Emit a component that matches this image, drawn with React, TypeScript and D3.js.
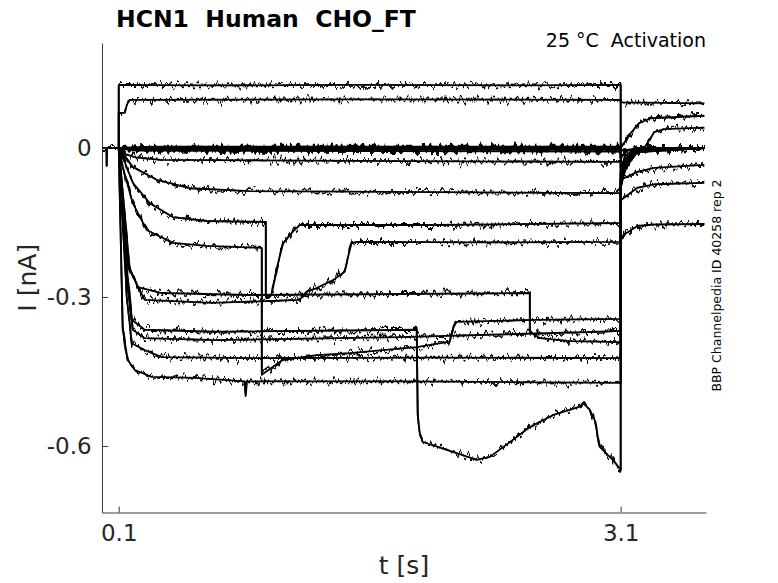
import React, { useEffect, useRef } from 'react';
import * as d3 from 'd3';

type Pt = [number, number]; // [t in s, I in nA]

const xTicks = [0.1, 3.1];
const yTicks = [0, -0.3, -0.6];

// traces, [t, I]
const traceP1: Pt[] = [[0, 0], [0.1, 0], [0.1, 0.127], [0.6, 0.126], [1.5, 0.127], [2.5, 0.126], [3.1, 0.127], [3.1, -0.02], [3.14, -0.004], [3.6, 0]];
const traceP2: Pt[] = [[0, 0], [0.1, 0], [0.1, 0.07], [0.135, 0.071], [0.15, 0.088], [0.165, 0.097], [1.5, 0.098], [3.1, 0.097], [3.1, 0.092], [3.6, 0.09]];
const traceZ1: Pt[] = [[0, 0], [0.1, 0], [0.3, 0.003], [3.1, 0.003], [3.1, 0], [3.12, 0.01], [3.16, 0.03], [3.21, 0.05], [3.28, 0.06], [3.6, 0.065]];
const traceZ2: Pt[] = [[0, 0], [0.1, 0], [0.3, -0.003], [3.1, -0.003], [3.1, -0.005], [3.24, 0], [3.26, 0.01], [3.3, 0.032], [3.36, 0.038], [3.6, 0.041]];
const traceZ3: Pt[] = [[0, 0], [0.027, 0], [0.028, -0.036], [0.03, 0], [0.1, 0], [3.1, 0], [3.1, -0.02], [3.14, -0.005], [3.6, 0]];
const traceZ4: Pt[] = [[0, 0], [0.1, 0], [0.2, -0.005], [3.1, -0.007], [3.1, -0.04], [3.13, -0.015], [3.2, 0], [3.6, 0]];
const traceN1: Pt[] = [[0, 0], [0.1, 0], [0.14, -0.012], [0.2, -0.019], [0.35, -0.024], [1.5, -0.026], [3.1, -0.028], [3.1, -0.055], [3.14, -0.025], [3.2, -0.006], [3.6, 0]];
const traceN2: Pt[] = [[0, 0], [0.1, 0], [0.184, -0.038], [0.327, -0.064], [0.524, -0.081], [0.883, -0.087], [2, -0.089], [3.1, -0.091], [3.1, -0.065], [3.13, -0.035], [3.2, -0.008], [3.6, 0]];
const traceA: Pt[] = [[0, 0], [0.1, 0], [0.124, -0.018], [0.184, -0.07], [0.285, -0.111], [0.423, -0.139], [0.626, -0.147], [0.979, -0.149], [0.979, -0.3], [0.995, -0.302], [1.013, -0.296], [1.052, -0.232], [1.082, -0.192], [1.142, -0.168], [1.182, -0.155], [2, -0.155], [3.1, -0.151], [3.1, -0.064], [3.2, -0.048], [3.3, -0.04], [3.6, -0.034]];
const traceB: Pt[] = [[0, 0], [0.1, 0], [0.124, -0.038], [0.184, -0.111], [0.267, -0.165], [0.423, -0.191], [0.626, -0.197], [0.955, -0.201], [0.955, -0.457], [0.961, -0.455], [1.08, -0.427], [1.283, -0.417], [1.481, -0.413], [1.678, -0.407], [1.881, -0.401], [2.078, -0.39], [2.102, -0.36], [2.12, -0.35], [2.6, -0.346], [3.1, -0.344], [3.1, -0.08], [3.13, -0.04], [3.2, -0.008], [3.6, 0]];
const traceC: Pt[] = [[0, 0], [0.1, 0], [0.154, -0.232], [0.214, -0.28], [0.357, -0.292], [0.883, -0.296], [1.8, -0.294], [2.557, -0.292], [2.557, -0.37], [2.617, -0.383], [2.8, -0.389], [3.1, -0.391], [3.1, -0.105], [3.2, -0.08], [3.3, -0.073], [3.6, -0.07]];
const traceD: Pt[] = [[0, 0], [0.1, 0], [0.166, -0.246], [0.255, -0.306], [0.656, -0.312], [1.182, -0.306], [1.222, -0.289], [1.282, -0.282], [1.381, -0.266], [1.451, -0.249], [1.471, -0.219], [1.491, -0.192], [1.521, -0.189], [2.3, -0.19], [3.1, -0.189], [3.1, -0.05], [3.14, -0.02], [3.2, -0.004], [3.6, 0]];
const traceE: Pt[] = [[0, 0], [0.1, 0], [0.136, -0.199], [0.178, -0.346], [0.255, -0.366], [0.674, -0.37], [1.3, -0.368], [1.881, -0.366], [1.887, -0.538], [1.899, -0.574], [1.917, -0.592], [2.061, -0.608], [2.24, -0.628], [2.318, -0.622], [2.455, -0.588], [2.557, -0.562], [2.694, -0.538], [2.856, -0.521], [2.874, -0.513], [2.915, -0.527], [2.945, -0.548], [2.975, -0.602], [3.053, -0.628], [3.1, -0.648], [3.1, -0.07], [3.14, -0.03], [3.2, -0.006], [3.6, 0]];
const traceF: Pt[] = [[0, 0], [0.1, 0], [0.142, -0.236], [0.184, -0.366], [0.255, -0.383], [0.674, -0.387], [1.78, -0.381], [2.975, -0.37], [3.1, -0.368], [3.1, -0.06], [3.13, -0.03], [3.2, -0.005], [3.6, 0]];
const traceG: Pt[] = [[0, 0], [0.1, 0], [0.148, -0.3], [0.178, -0.393], [0.255, -0.407], [0.357, -0.421], [0.883, -0.423], [2, -0.422], [3.1, -0.423], [3.1, -0.045], [3.14, -0.018], [3.2, -0.003], [3.6, 0]];
const traceH: Pt[] = [[0, 0], [0.1, 0], [0.124, -0.366], [0.154, -0.427], [0.196, -0.447], [0.297, -0.461], [0.554, -0.463], [0.853, -0.47], [0.859, -0.495], [0.865, -0.47], [1.8, -0.47], [3.1, -0.473], [3.1, -0.185], [3.13, -0.172], [3.2, -0.157], [3.3, -0.154], [3.6, -0.153]];

const traces: Pt[][] = [
  traceP1, traceP2, traceZ1, traceZ2, traceZ3, traceZ4, traceN1, traceN2,
  traceA, traceB, traceC, traceD, traceE, traceF, traceG, traceH
];

const FONT = "'DejaVu Sans', sans-serif";
const AXIS_COLOR = '#262626';

export default function App() {
  const svgRef = useRef<SVGSVGElement>(null);

  useEffect(() => {
    if (!svgRef.current) return;
    const svg = d3.select(svgRef.current);
    svg.selectAll('*').remove();

    const plot = { left: 102, right: 706, top: 43, bottom: 512.5 };

    const xScale = d3.scaleLinear().domain([0, 3.61]).range([plot.left, plot.right]);
    const yScale = d3.scaleLinear().domain([-0.734, 0.2115]).range([plot.bottom, plot.top]);

    // recording noise look (texture only, values untouched)
    const defs = svg.append('defs');
    const filter = defs.append('filter')
      .attr('id', 'jitter')
      .attr('x', '-3%').attr('y', '-5%')
      .attr('width', '106%').attr('height', '110%')
      .attr('color-interpolation-filters', 'sRGB');
    filter.append('feTurbulence')
      .attr('type', 'fractalNoise')
      .attr('baseFrequency', '0.3 0.05')
      .attr('numOctaves', 2)
      .attr('seed', 7)
      .attr('result', 'noise');
    filter.append('feColorMatrix')
      .attr('in', 'noise')
      .attr('type', 'matrix')
      .attr('values', '0 0 0 0 0.5  0 1 0 0 0  0 0 0 0 0  0 0 0 0 1')
      .attr('result', 'dy');
    filter.append('feDisplacementMap')
      .attr('in', 'SourceGraphic')
      .attr('in2', 'dy')
      .attr('scale', 15)
      .attr('xChannelSelector', 'R')
      .attr('yChannelSelector', 'G')
      .attr('result', 'shaken');
    const merge = filter.append('feMerge');
    merge.append('feMergeNode').attr('in', 'SourceGraphic');
    merge.append('feMergeNode').attr('in', 'shaken');

    const lineGen = d3.line<Pt>()
      .x(d => xScale(d[0]))
      .y(d => yScale(d[1]));

    svg.append('g')
      .attr('filter', 'url(#jitter)')
      .selectAll('path')
      .data(traces)
      .enter()
      .append('path')
      .attr('d', d => lineGen(d) as string)
      .attr('fill', 'none')
      .attr('stroke', '#000')
      .attr('stroke-width', 1.8)
      .attr('stroke-linejoin', 'round');

    // X axis, ticks pointing inward
    svg.append('g')
      .attr('transform', `translate(0, ${plot.bottom})`)
      .call(d3.axisBottom(xScale).tickValues(xTicks).tickSizeInner(-6).tickSizeOuter(0).tickPadding(12.5).tickFormat(d => String(d)))
      .call(g => g.select('.domain').attr('stroke', AXIS_COLOR).attr('stroke-width', 0.9))
      .call(g => g.selectAll('.tick line').attr('stroke', AXIS_COLOR).attr('stroke-width', 0.9))
      .call(g => g.selectAll('.tick text').attr('fill', AXIS_COLOR).attr('font-size', 23).attr('font-family', FONT));

    // Y axis
    svg.append('g')
      .attr('transform', `translate(${plot.left}, 0)`)
      .call(d3.axisLeft(yScale).tickValues(yTicks).tickSizeInner(-6).tickSizeOuter(0).tickPadding(10.3).tickFormat(d => String(d)))
      .call(g => g.select('.domain').attr('stroke', AXIS_COLOR).attr('stroke-width', 0.9))
      .call(g => g.selectAll('.tick line').attr('stroke', AXIS_COLOR).attr('stroke-width', 0.9))
      .call(g => g.selectAll('.tick text').attr('fill', AXIS_COLOR).attr('font-size', 23).attr('font-family', FONT));

    // axis labels
    svg.append('text')
      .attr('x', (plot.left + plot.right) / 2)
      .attr('y', 574)
      .attr('text-anchor', 'middle')
      .attr('font-family', FONT)
      .attr('font-size', 25)
      .attr('fill', AXIS_COLOR)
      .text('t [s]');

    svg.append('text')
      .attr('transform', `translate(36, ${(plot.top + plot.bottom) / 2}) rotate(-90)`)
      .attr('text-anchor', 'middle')
      .attr('font-family', FONT)
      .attr('font-size', 25)
      .attr('fill', AXIS_COLOR)
      .text('I [nA]');

    // title
    svg.append('text')
      .attr('x', 116)
      .attr('y', 27)
      .attr('font-family', FONT)
      .attr('font-weight', 'bold')
      .attr('font-size', 23.5)
      .attr('fill', '#000')
      .style('white-space', 'pre')
      .text('HCN1  Human  CHO_FT');

    svg.append('text')
      .attr('x', 706)
      .attr('y', 47)
      .attr('text-anchor', 'end')
      .attr('font-family', FONT)
      .attr('font-size', 19)
      .attr('fill', '#000')
      .style('white-space', 'pre')
      .text('25 °C  Activation');

    svg.append('text')
      .attr('transform', 'translate(721, 285.5) rotate(-90)')
      .attr('text-anchor', 'middle')
      .attr('font-family', FONT)
      .attr('font-size', 12.5)
      .attr('fill', '#000')
      .text('BBP Channelpedia ID 40258 rep 2');
  }, []);

  return (
    <svg
      ref={svgRef}
      width={778}
      height={583}
      style={{ position: 'absolute', left: 0, top: 0, background: '#fff' }}
    />
  );
}
